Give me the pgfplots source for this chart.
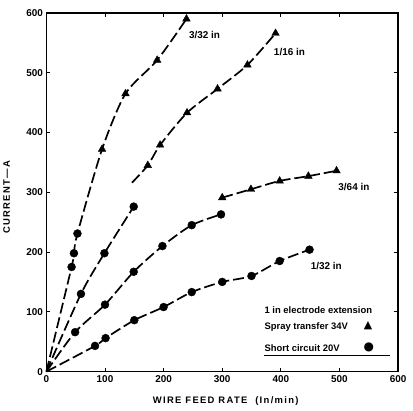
\documentclass[border=0pt]{standalone}
\usepackage{fontspec}
\setmainfont{Liberation Sans}
\newfontfamily\symfont{DejaVu Sans}
\newfontfamily\spacedfont[LetterSpace=14]{Liberation Sans}
\usepackage{pgfplots}
\pgfplotsset{compat=1.18}
\begin{document}
\begin{tikzpicture}
\begin{axis}[
  scale only axis, width=353bp, height=360bp,
  xmin=0, xmax=600, ymin=0, ymax=600,
  xtick={0,100,...,600}, ytick={0,100,...,600},
  tick align=inside, xtick pos=both, ytick pos=both,
  major tick length=4bp,
  axis line style={line width=1.4pt},
  every tick/.style={black, line width=0.9pt},
  /pgf/number format/assume math mode=true,
  ticklabel style={font=\bfseries\fontsize{10}{11}\selectfont},
  xlabel={WIRE FEED RATE \ (In/min)},
  ylabel={CURRENT\,—\,A},
  label style={font=\spacedfont\bfseries\fontsize{9.5}{11}\selectfont},
  xlabel style={at={(axis description cs:0.51,-0.083)}, anchor=center},
  ylabel style={at={(axis description cs:-0.113,0.486)}, anchor=center},
  clip=false,
  curve/.style={black, line width=1.7bp, dash pattern=on 11bp off 4bp, smooth, tension=0.45, no marks},
  tri/.style={only marks, mark=triangle*, mark size=4.4bp, black},
  circ/.style={only marks, mark=*, mark size=4bp, black},
]
% 3/32 in
\addplot[curve] coordinates {(0,0) (43,175) (47,198) (53,231) (95,372) (135,465) (189,521) (239,590)};
% 1/16 in
\addplot[curve] coordinates {(0,0) (59,130) (99,198) (149,276)};
\addplot[curve] coordinates {(146,316) (173,345) (194,379) (240,433) (292,473) (343,513) (391,566)};
% 3/64 in
\addplot[curve] coordinates {(0,0) (49,66) (100,112) (149,167) (198,210) (248,245) (298,263)};
\addplot[curve] coordinates {(300,291) (349,305) (398,319) (447,327) (495,336)};
% 1/32 in
\addplot[curve] coordinates {(0,0) (83,43) (101,56) (150,86) (200,108) (248,133) (300,150) (350,160) (398,185) (449,204)};

% markers: spray transfer (triangles)
\addplot[tri] coordinates {(95,372) (135,465) (189,521) (239,590)
  (173,345) (194,379) (240,433) (292,473) (343,513) (391,566)
  (300,291) (349,305) (398,319) (447,327) (495,336)};
% markers: short circuit (circles)
\addplot[circ] coordinates {(43,175) (47,198) (53,231)
  (59,130) (99,198) (149,276)
  (49,66) (100,112) (149,167) (198,210) (248,245) (298,263)
  (83,43) (101,56) (150,86) (200,108) (248,133) (300,150) (350,160) (398,185) (449,204)};

\tikzset{lab/.style={anchor=west, font=\bfseries\fontsize{10}{11}\selectfont, inner sep=0pt}}
\node[lab] at (axis cs:243,563) {3/32 in};
\node[lab] at (axis cs:388,535) {1/16 in};
\node[lab] at (axis cs:498,308) {3/64 in};
\node[lab] at (axis cs:451,177) {1/32 in};

\tikzset{leg/.style={anchor=west, font=\bfseries\fontsize{9.5}{11}\selectfont, inner sep=0pt}}
\node[leg] at (axis cs:372,102) {1 in electrode extension};
\node[leg] at (axis cs:372,75) {Spray transfer 34V};
\node[leg] at (axis cs:372,40) {Short circuit 20V};
\node[anchor=center, inner sep=0pt, font=\symfont\fontsize{11}{11}\selectfont] at (axis cs:549,77) {▲};
\node[anchor=center, inner sep=0pt, font=\symfont\fontsize{12}{12}\selectfont] at (axis cs:550,41) {●};
\draw[line width=1pt] (axis cs:372,27) -- (axis cs:587,27);
\end{axis}
\path (current axis.south west) ++(-45bp,-39bp) rectangle ++(413bp,412bp);
\end{tikzpicture}
\end{document}
